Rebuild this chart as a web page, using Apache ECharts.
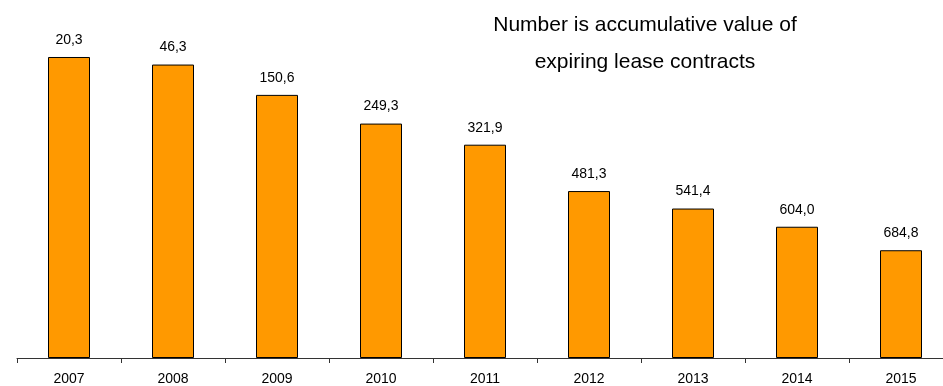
<!DOCTYPE html>
<html>
<head>
<meta charset="utf-8">
<script src="https://cdn.jsdelivr.net/npm/echarts@6/dist/echarts.min.js"></script>
<style>html,body{margin:0;padding:0;background:#fff;overflow:hidden;width:943px;height:386px}#c{width:953px;height:386px}</style>
</head>
<body>
<div id="c"></div>
<script>
const categories = ['2007','2008','2009','2010','2011','2012','2013','2014','2015'];
// bar heights (estimated remaining value)
const barValues = [1035.0, 1009.0, 904.7, 806.0, 733.4, 574.0, 513.9, 451.3, 370.5];
// labels shown above bars: accumulative value of expiring lease contracts
const labelValues = [20.3, 46.3, 150.6, 249.3, 321.9, 481.3, 541.4, 604.0, 684.8];
const titleLines = ['Number is accumulative value of', 'expiring lease contracts'];

const font = 'Arial, "Liberation Sans", sans-serif';
const chart = echarts.init(document.getElementById('c'), null, {renderer: 'canvas'});
chart.setOption({
  animation: false,
  backgroundColor: '#ffffff',
  title: {
    text: titleLines.join('\n'),
    left: 640, top: 2, textAlign: 'center',
    textStyle: {fontFamily: font, fontSize: 21, fontWeight: 'normal', color: '#000', lineHeight: 37}
  },
  grid: {left: 17, top: 9, right: 0, bottom: 27.5, containLabel: false},
  xAxis: {
    type: 'category', data: categories,
    axisLine: {lineStyle: {color: '#333', width: 1}},
    axisTick: {show: true, length: 5, lineStyle: {color: '#333'}},
    axisLabel: {fontFamily: font, fontSize: 14, color: '#000', margin: 14}
  },
  yAxis: {
    type: 'value', min: 0, max: 1200, show: false,
    splitLine: {show: false}
  },
  series: [{
    type: 'bar', data: barValues, barWidth: 42,
    itemStyle: {color: '#FF9900', borderColor: '#000', borderWidth: 1},
    label: {
      show: true, position: 'top', distance: 10,
      fontFamily: font, fontSize: 14, color: '#000',
      formatter: p => labelValues[p.dataIndex].toFixed(1).replace('.', ',')
    }
  }]
});
</script>
</body>
</html>
